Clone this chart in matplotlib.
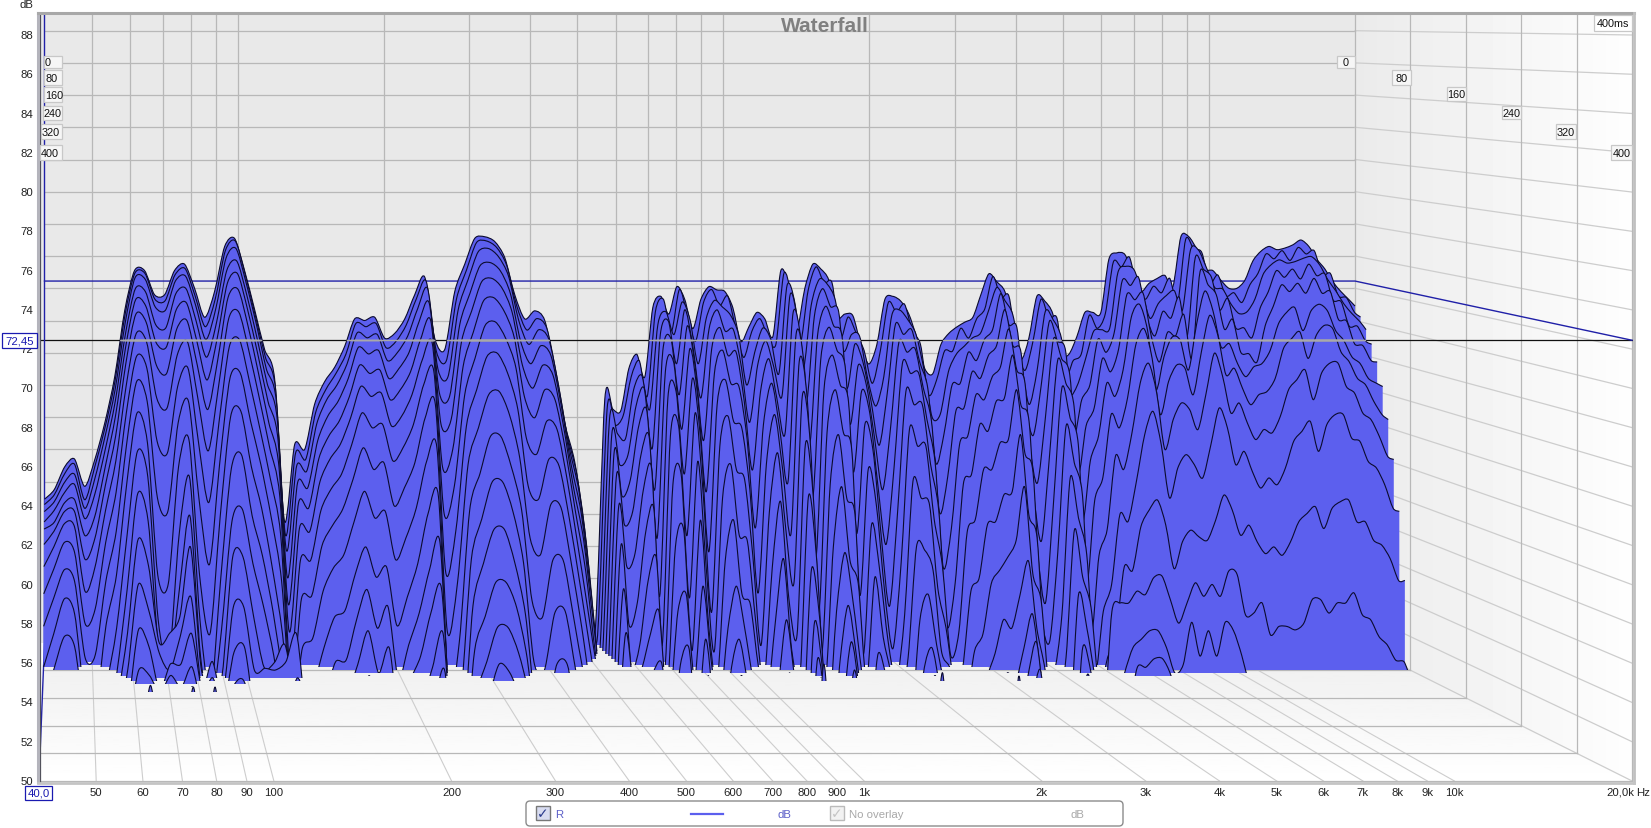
import numpy as np
import matplotlib
matplotlib.use("Agg")
import matplotlib.pyplot as plt
from matplotlib.path import Path
from matplotlib.patches import PathPatch, Polygon, Rectangle, FancyBboxPatch

plt.rcParams['font.family'] = ['Liberation Sans', 'DejaVu Sans']

# frequency points of the slices
freq_lf = [40,41.9,44.0,46.1,48.4,50.7,53.2,55.8,58.5,61.3,64.3,67.4,70.7,74.1,77.7,81.5,85.5,89.6,94.0,98.5,
           103.3,108.3,113.6,119.1,124.9,131,137.4,144.0,151.0,158.4,166.1,174.1,182.6,191.5,200.8,210.5,220.8,231.5,242.7,254.5,
           266.9,279.9,293.5,307.7,322.7,338.4,354.8,372,390.1,409,428.9,449.8,471.6,494.5,518.5,543.7]
freq_hf = [570.1,592.1,615.1,638.8,663.5,689.2,715.9,743.6,772.3,802.2,833.2,865.5,898.9,933.7,969.8,1007.3,1046.3,1086.7,1128.8,1172.4,
           1217.8,1264.9,1313.8,1364.6,1417.4,1472.2,1529.1,1588.2,1649.6,1713.4,1779.7,1848.5,1920,1994.2,2071.3,2151.4,2234.6,2321,2410.8,2504,
           2600.9,2701.5,2805.9,2914.4,3027.1,3144.2,3265.8,3392.1,3523.2,3659.5,3801,3948,4100.7,4259.2,4423.9,4595,4772.7,4957.2,5148.9,5348,
           5554.8,5769.6,5992.7,6224.5,6465.2,6715.2,6974.9,7244.6,7524.7,7815.7,8117.9,8431.8,8757.9,9096.5,9448.3,9813.6,10193,10587,10997,11422,
           11864,12323,12799,13294,13808,14342,14897,15473,16071,16693,17338,18009,18705,19428,20000]

# dB of each time slice, 0 = back, steps of 8 ms
lf_00 = [58.9,59.5,60.9,61.4,59.7,61.3,63.6,66.5,70.6,73.1,73.1,71.6,71.6,73.1,73.5,72.0,70.2,71.8,74.6,75.1,73.1,70.7,68.2,66.4,57.5,62.3,62.0,64.8,66.2,67.1,68.4,70.1,70.0,70.2,68.9,69.2,70.1,71.6,72.7,68.9,68.2,71.8,73.5,75.1,75.2,74.9,73.9,71.6,70.1,70.6,70.0,67.0,63.6,61.2,57.0,50.5]
lf_01 = [58.7,59.3,60.6,61.2,59.0,61.0,63.4,66.3,70.4,73.0,73.0,71.4,71.3,72.9,73.3,71.6,69.7,71.4,74.4,75.0,72.9,70.4,67.8,65.9,56.8,61.9,61.5,64.4,65.8,66.8,68.0,69.9,69.7,69.9,68.4,68.8,69.8,71.4,72.5,68.2,67.6,71.4,73.2,74.9,75.0,74.6,73.5,71.0,69.5,70.2,69.6,66.6,63.1,60.5,56.0,50.3]
lf_02 = [58.4,59.0,60.2,60.7,58.6,60.4,63.0,65.9,70.0,72.8,72.7,71.0,70.8,72.6,72.9,71.1,69.0,70.9,74.0,74.6,72.5,70.0,67.2,65.2,56.0,61.2,60.9,63.8,65.3,66.2,67.5,69.4,69.1,69.3,67.7,68.2,69.2,70.9,72.1,67.2,66.7,70.8,72.7,74.4,74.6,74.1,72.9,70.2,68.7,69.6,69.0,66.0,62.4,59.6,54.8,49.5]
lf_03 = [57.9,58.6,59.7,60.2,58.1,59.6,62.3,65.3,69.4,72.2,72.0,70.0,69.8,71.9,72.2,70.2,68.0,70.1,73.3,73.9,71.8,69.2,66.4,64.2,54.5,60.3,60.0,62.9,64.4,65.3,66.7,68.6,68.2,68.4,66.7,67.3,68.3,70.2,71.3,65.8,65.6,70.0,71.9,73.6,73.8,73.3,71.9,69.0,67.6,68.7,68.1,65.1,61.4,58.4,53.4,49.0]
lf_04 = [57.6,58.0,59.2,59.4,57.2,58.4,61.4,64.5,68.7,71.6,71.2,69.0,68.7,71.0,71.4,69.1,66.7,69.2,72.6,73.2,71.0,68.3,65.4,63.0,53.0,59.2,58.9,61.9,63.3,64.2,65.7,67.6,67.1,67.3,65.5,66.1,67.2,69.2,70.3,64.0,64.3,69.0,70.9,72.7,72.9,72.3,70.8,67.6,66.2,67.6,67.0,64.0,60.2,57.0,51.8,48.0]
lf_05 = [56.8,57.6,58.8,58.8,55.9,57.2,60.4,63.4,67.8,70.8,70.3,67.7,67.2,69.9,70.4,67.7,65.0,68.0,71.8,72.3,70.0,67.2,64.2,61.5,51.5,57.8,57.6,60.6,62.0,62.9,64.5,66.4,65.8,66.0,64.0,64.6,65.9,68.0,69.0,61.5,62.6,67.6,69.7,71.6,71.8,71.0,69.4,65.8,64.5,66.2,65.6,62.6,58.8,55.2,50.0,47.0]
lf_06 = [55.6,56.8,58.2,58.0,54.1,55.6,59.0,62.0,66.5,69.7,69.2,65.8,65.2,68.4,69.2,65.8,62.6,66.4,70.6,71.0,68.6,65.8,62.8,59.8,49.5,56.0,56.0,59.0,60.3,61.2,63.0,64.9,64.0,64.2,62.0,62.8,64.2,66.6,67.4,58.8,60.5,66.0,68.2,70.2,70.4,69.4,67.6,63.4,62.4,64.4,63.9,60.8,57.0,53.0,49.0,46.0]
lf_07 = [54.1,55.6,57.2,56.6,52.3,53.2,57.2,60.2,65.0,68.4,67.7,63.3,62.6,66.6,67.7,63.3,59.6,64.4,69.0,69.4,66.8,64.0,61.0,57.6,48.0,53.8,54.0,57.0,58.2,59.2,61.0,62.9,61.6,62.0,59.4,60.5,62.0,64.7,65.5,55.4,58.0,64.2,66.4,68.4,68.6,67.4,65.2,60.6,59.8,62.2,61.8,58.6,54.8,50.8,47.0,45.0]
lf_08 = [52.3,54.0,55.7,55.0,50.4,50.6,55.0,58.0,63.2,67.0,65.8,60.0,59.2,64.5,65.8,60.0,56.0,62.0,67.2,67.5,64.6,62.0,58.8,55.0,47.0,51.0,51.6,54.4,55.8,56.6,58.6,60.4,58.8,59.2,56.3,57.6,59.4,62.2,63.0,52.0,55.0,62.0,64.2,66.2,66.4,65.0,62.4,57.6,56.6,59.6,59.4,56.0,52.2,48.0,46.0,45.0]
lf_09 = [50.0,52.0,54.1,53.2,48.0,47.5,52.5,55.5,61.0,65.2,63.4,55.5,55.0,62.0,63.6,55.6,52.0,59.0,65.0,65.3,62.0,59.5,56.0,52.0,46.0,48.0,49.0,51.2,53.0,53.4,55.6,57.2,55.4,56.0,52.5,54.2,56.2,59.2,60.2,48.5,51.5,59.4,61.6,63.8,63.8,62.0,59.4,54.0,53.0,56.4,56.4,53.0,49.5,47.0,45.0,44.0]
lf_10 = [48.0,50.0,52.0,51.4,47.0,46.0,49.0,52.5,58.0,63.0,61.5,53.0,50.5,58.0,61.5,53.0,48.5,55.5,62.0,62.8,59.2,56.8,53.5,49.5,46.0,46.0,47.0,48.5,50.5,50.6,53.0,54.8,52.5,53.8,49.5,51.5,53.4,56.0,57.6,47.0,48.5,56.6,59.0,61.2,61.2,59.4,56.4,50.5,50.0,53.4,53.5,50.0,47.0,45.0,44.0,44.0]
lf_11 = [46,48,49.8,49.4,45,45,46.5,50,55.0,60.6,59.0,51.5,50.0,55.0,59.3,51.0,48,52.5,59.0,59.7,56.5,54.0,51.0,47,45,45,46,47,48.5,48.8,50.5,52.5,50.0,51.5,47,49.5,51.0,53.6,55.0,46,46,54,56.5,58.5,58.5,56.5,53.5,48,47.5,50.5,50.5,47,45,44,44,44]
lf_12 = [45,46,47.5,47,44,44,46,48.5,52.5,58.0,56.5,52.0,52.5,53.5,57.6,50.5,49.0,50.0,57.0,57.0,53.5,50.5,50.8,51.8,48,44,46,45,47,47,48,50.0,47.5,49.0,46,47,48.5,50.5,52.5,45,45,51.5,53.5,55.5,55.5,54,51,46,46,48.5,48.2,46,44,44,44,44]
lf_13 = [43,44,45,44.5,43,43,45,47.5,50.5,55.5,54,51.5,50.5,52.5,54.8,49.5,51,49,54.2,54.2,50.5,50.6,50.5,51,52.6,47,44,43,45,45,46,48,46,47,45,46,47,48.5,50.5,44,44,49,51,53,53,51.5,49,45,45,47,46,44,43,43,43,43]
lf_14 = [43,43,43,43,43,43,44,46.5,48.5,53,52,49.5,51,51,52.8,49.5,50.2,48.5,51.7,52,48,47.5,48,48,50.2,48,43,43,43,43,44,46,44,45.5,44,44,45,47,48.5,43,43,47,49,51,50.5,49,47,44,43,45,44,43,43,43,43,43]
lf_15 = [43,43,43,43,43,43,43,45,47.5,50.8,50.5,49.5,50.5,49.8,51,48.6,49.5,48,50,50,46,45,45,45,47.5,46,43,43,43,43,43,44.5,43,44,43,43,43,45,46.5,43,43,45,47,49,48.5,47,45,43,43,44,43,43]
lf_16 = [43,43,43,43,43,43,43,44,46,49.2,49,48.5,49.5,48.2,50,47.5,48.5,46.5,48.5,48,45,44,44,44,46,45,43]
lf_17 = [43,43,43,43,43,43,43,43,44.5,47.5,48,47.5,47.5,47,48.5,46,47,45,47,46,43]
lf_18 = [43,43,43,43,43,43,43,43,43,45.5,50.4,46,46,45.5,50.3,45,50.3,44,45,44,43]

hf_00 = [65.1,64.5,64.4,67.0,67.9,66.5,70.8,71.5,70.4,72.1,71.3,69.5,71.3,72.1,71.9,71.8,70.8,68.7,69.6,70.5,70.1,69.0,73.1,72.1,69.5,72.0,73.5,73.2,72.5,70.2,70.4,70.3,68.5,67.3,68.5,71.3,71.5,71.2,70.4,68.9,67.0,66.7,68.5,69.2,69.6,69.9,70.2,71.6,72.9,72.4,71.8,69.8,67.6,68.9,71.5,71.2,70.4,67.9,67.9,69.0,70.5,70.5,70.5,73.8,74.2,74.1,72.9,71.8,72.3,72.6,72.8,72.1,75.2,75.2,74.4,73.2,73.1,72.5,72.0,72.0,72.5,73.7,74.3,74.6,74.4,74.5,74.7,75.0,74.6,73.8,73.2,72.4,71.8,71.3,70.9]
hf_01 = [64.6,63.6,64.2,66.6,67.6,65.4,70.6,71.4,69.4,72.0,70.4,68.8,71.2,72.0,71.0,71.6,69.6,67.8,69.4,70.2,69.1,68.6,73.0,71.5,68.6,71.9,73.4,72.4,72.4,69.0,70.3,69.3,68.2,66.2,68.2,71.2,70.6,71.1,69.4,68.6,65.5,66.4,68.2,68.2,69.6,69.0,70.2,70.8,72.8,71.5,71.6,68.4,67.0,68.8,71.4,70.2,70.2,66.6,67.6,68.0,70.4,69.6,70.5,73.7,73.4,74.0,72.0,71.4,72.2,71.8,72.7,71.2,75.1,74.5,74.3,72.4,72.9,71.6,71.8,71.2,72.3,73.0,74.2,73.9,74.4,73.8,74.6,74.2,74.4,72.9,73.0,71.6,71.5,70.6,70.3]
hf_02 = [64.0,63.2,62.9,65.9,66.8,64.7,69.9,70.7,69.3,71.3,70.2,67.5,70.3,71.4,71.0,70.5,69.3,66.2,68.2,69.7,69.0,66.9,72.3,71.2,67.2,71.1,72.7,72.4,71.4,68.3,69.3,69.2,66.6,64.9,66.7,70.5,70.8,70.2,69.3,67.1,64.2,64.4,67.0,68.1,68.6,69.1,69.4,70.8,72.2,71.4,70.5,67.7,65.0,67.1,70.7,70.2,69.1,65.7,66.2,67.8,69.5,69.6,69.7,73.1,73.5,73.3,71.9,70.3,71.2,71.7,72.0,70.8,74.5,74.5,73.4,72.2,72.1,71.2,70.6,70.7,71.5,73.0,73.6,73.9,73.7,73.8,74.0,74.1,73.6,72.7,72.0,71.2,70.6,70.1,69.6]
hf_03 = [63.2,61.4,62.0,65.0,66.1,62.4,69.4,70.2,67.6,70.9,68.7,65.5,69.7,70.9,69.6,69.7,67.4,64.0,67.5,69.0,67.4,65.6,71.8,70.0,65.2,70.5,72.2,71.1,70.8,66.1,68.8,67.7,65.3,62.6,65.8,70.0,69.4,69.7,67.7,66.1,61.5,63.3,66.3,66.4,68.3,67.8,69.1,69.7,71.9,70.0,69.8,65.2,63.2,66.3,70.2,69.0,68.4,63.3,65.4,66.3,69.1,68.3,69.5,72.7,72.4,72.9,70.5,69.3,70.8,70.4,71.7,69.3,74.1,73.4,72.9,70.9,71.6,69.8,69.8,69.2,71.0,72.0,73.3,72.9,73.4,72.8,73.7,73.0,73.1,71.5,71.4,69.9,69.9,69.0,68.8]
hf_04 = [62.2,59.6,60.6,63.8,64.9,60.0,68.5,69.2,65.8,70.0,67.4,63.0,68.6,69.9,68.2,68.4,65.4,61.2,66.0,68.0,65.6,63.4,70.8,69.0,62.7,69.4,71.2,70.0,69.4,64.0,67.6,66.4,63.2,60.0,63.9,69.0,68.4,68.6,66.2,64.2,58.6,60.8,64.8,65.0,67.2,66.8,68.2,68.8,71.0,68.8,68.4,63.0,60.4,64.4,69.2,68.0,67.0,61.0,63.9,65.0,68.0,67.2,68.6,71.9,71.6,72.0,69.4,67.8,69.6,69.4,70.7,68.0,73.3,72.5,71.9,69.8,70.4,68.4,68.3,67.8,70.0,71.2,72.5,72.1,72.6,72.0,72.9,72.0,72.1,70.4,70.3,68.9,68.8,67.9,67.8]
hf_05 = [60.9,58.0,58.8,62.2,63.4,57.2,67.3,67.9,63.8,68.7,65.6,60.0,67.2,68.6,66.6,66.4,63.2,57.8,64.1,66.6,63.8,60.6,69.6,67.6,59.6,68.0,70.0,68.6,67.6,61.2,66.1,64.8,60.4,56.8,61.6,67.8,67.2,67.2,64.4,61.8,55.4,57.8,62.9,63.4,65.9,65.6,67.0,67.6,69.9,67.4,66.6,60.2,57.0,62.2,68.0,66.6,65.2,58.2,61.9,63.4,66.6,65.8,67.4,70.6,71.4,69.8,66.2,68.2,69.4,69.2,67.4,70.2,72.2,71,68.8,69,67.8,67,67.6,67.8,68.6,70.2,70.9,71.2,69.8,71,71.4,71,69.8,69.2,68.2,67.8,66.9,66.6,66.4]
hf_06 = [59.2,55.6,56.4,60.2,61.6,53.8,65.8,66.2,61.2,67.0,63.2,56.5,65.4,66.9,64.4,64.0,60.2,54.0,61.8,64.8,61.4,57.6,68.0,65.6,56.0,66.2,68.4,66.6,65.6,57.6,64.2,62.6,57.4,53.2,59.0,66.2,65.4,65.4,61.8,59.0,52.0,54.6,60.6,61.2,64.2,63.8,65.6,65.8,68.4,65.4,64.4,56.8,53.4,59.6,66.4,64.6,63.0,54.6,59.6,61.0,64.8,64.0,65.8,69,70,68.2,64.8,66.8,67.8,67.6,66,68.6,70.8,69.6,67.2,67.6,66.4,65.4,66,66.2,67,68.8,69.4,69.8,68.2,69.6,70.2,70,68.6,68,67,66.6,65.6,64.8,64.5]
hf_07 = [57.0,52.2,53.6,57.8,59.2,51.0,63.6,64.2,57.6,65.0,60.0,53.0,63.0,64.8,61.6,61.0,56.4,51.0,59.0,62.6,58.0,54.8,66.0,63.0,53.0,63.8,66.4,63.8,62.8,54.0,61.6,59.4,54.2,50.8,56.0,64.0,63.0,63.0,58.6,55.8,50.4,51.8,57.8,58.6,61.6,61.6,63.2,63.4,66.4,62.6,61.4,53.0,51.2,56.6,64.2,62.0,60.0,51.6,56.4,58.0,62.4,61.6,63.8,66.8,68,66.2,62.8,64.6,65.6,65.2,64,66.2,68.6,67.2,65,65.6,64.4,63.4,64,63.8,64.8,66.4,67,67.6,65.8,67.4,68,68,66.6,66.2,65,64.6,63.6,62.4,62.2]
hf_08 = [54.5,49.8,51.2,55.0,56.4,49.6,60.8,61.4,54.0,62.2,56.0,50.8,60.0,62.0,57.8,57.4,52.6,49.0,55.8,59.8,54.0,51.8,63.2,59.8,50.8,60.8,63.8,60.0,59.0,50.6,58.4,55.6,51.4,49.0,53.0,61.0,60.0,59.6,54.6,52.2,49.0,49.8,54.4,55.2,58.4,58.6,60.2,60.4,63.8,59.0,57.6,50.0,49.4,53.0,61.2,58.8,56.6,49.6,53.2,54.8,59.0,58.6,61.0,63.8,65.2,63.2,60,61.8,62.6,62,61.2,63.2,65.4,64.2,62,62.8,61.6,60.6,61.2,60.8,61.8,63.4,64,64.6,62.8,64.4,65,65,63.6,63.4,62.2,61.8,60.8,59.4,59.2]
hf_09 = [52.0,48.8,50.0,52.0,53.4,48.6,57.2,58.2,51.0,58.8,52.5,49.0,56.4,58.8,54.4,53.8,50.0,48.0,52.6,56.5,51.0,49.6,60.2,56.4,49.0,57.2,60.8,56.4,55.0,49.2,55.4,51.8,49.6,48.0,50.6,57.2,57.0,55.8,51.0,50.0,48,48,51.0,52.0,55.0,55.8,56.6,57.6,60.8,55.6,54.0,48.6,48,50.6,58.2,55.4,53.6,48.8,50.6,52.0,56.0,55.8,58.4,59.4,60.0,58.5,55.9,57.5,58.2,57.8,57.6,58.8,60.3,59.4,57.9,58.5,57.5,56.8,57.2,56.7,57.5,58.7,59.2,59.6,58.3,59.5,59.9,60.0,58.7,58.7,57.6,57.3,56.5,55.2,55.2]
hf_10 = [49.5,48,48,49.8,50.5,48,53.5,54.5,49.5,55.0,50.5,48,52.5,55.0,52.5,49.5,48,47,49,53.0,49.5,47,56.0,53.0,47,53.5,57.0,54.0,50.0,47,51.0,49.5,47,46,47,53.0,54.5,51.5,49,47,46,46,47,49.5,51.0,53.0,52.5,54.5,56.5,52.5,50,46,46,47,54.5,52.5,49.5,47,53.5,54,54,54.7,54.5,55.5,55.6,54.2,52.8,54,55.2,54.4,55.1,54.4,55.9,55.7,53.3,53.4,54,52.1,52.6,52.6,52.4,52.8,54.2,54.2,53.4,54,54,54.6,53.3,53,52,51.5,50.6,50.5,49.5]
hf_11 = [47,46,46,47,48,46,50.5,51.5,47,52,48,45,50,52,49.5,47,45,45,46,50,47,45,53,50,45,50.5,54,51,47,45,48,47,45,44,45,50,51.5,49,46,45,44,44,45,47,48.5,50,49.5,51.5,53.5,50,47,45,44,45,51.5,50,47,45,48,50,51.5,52,52.5,52.5,51.5,50,50.5,53,51,52.5,51,53,52.5,51,49,47]
hf_12 = [45,44,44,45,46,44,48,49,45,50,46,44,48,50,47,45,44,44,44,48,45,44,51,48,44,48,52,49,45,44,46,45,44,43,44,48,50,47,44,43,43,43,44,45,46.5,48.5,47.5,50,52,48,45,44,43,44,50,48,45,44,46,48,50.5,50.5,51,51,50,48,46]
hf_13 = [43,43,43,43,44,43,46,47,44,48,44,43,46,48,45,44,43,43,43,46,44,43,50,46,43,46.5,50.5,47,44,43,45,43,43,43,43,47,48,45,43,43,43,43,43,44,45,47,46,48.5,50.5,46,44,43]
hf_14 = [43,43,43,43,43,43,44.5,45,43,46.5,43,43,45,46.5,44,43,43,43,43,45,43,43,51,44.5,43,45,49.5,45,43,43,43.5,43,43,43,43,45,50.5,44,43,43,43,43,43,43,43.5,50.3,44.5,43]

slices = [(lf_00, hf_00), (lf_01, hf_01), (lf_02, hf_02), (lf_03, hf_03), (lf_04, hf_04),
          (lf_05, hf_05), (lf_06, hf_06), (lf_07, hf_07), (lf_08, hf_08), (lf_09, hf_09),
          (lf_10, hf_10), (lf_11, hf_11), (lf_12, hf_12), (lf_13, hf_13), (lf_14, hf_14),
          (lf_15, []), (lf_16, []), (lf_17, []), (lf_18, [])]
slice_step = 0.02

db_ticks = list(range(50, 90, 2))
freq_ticks = [50, 60, 70, 80, 90, 100, 200, 300, 400, 500, 600, 700, 800, 900, 1000, 2000, 3000, 4000, 5000, 6000, 7000, 8000, 9000, 10000]
freq_labels = ['50', '60', '70', '80', '90', '100', '200', '300', '400', '500', '600', '700', '800', '900', '1k', '2k', '3k', '4k', '5k', '6k', '7k', '8k', '9k', '10k']
ms_ticks = [0, 80, 160, 240, 320, 400]
level = 72.45

BLUE = '#5c5fee'


def project(f, db, t):
    # pixel position on the box, t = 0 back wall, t = 1 front
    f = np.asarray(f, dtype=float)
    db = np.asarray(db, dtype=float)
    u = np.log(f / 40.0) / np.log(500.0)
    xl = 44.5 - 5.5 * t
    xr = 1355 + 277 * t
    yb = 31.7 + (88 - db) * 16.1
    yf = 36 + (88 - db) * 19.63
    return xl + u * (xr - xl), yb * (1 - t) + yf * t


def smooth_path(x, y):
    verts = [(x[0], y[0])]
    codes = [Path.MOVETO]
    c = 0.14
    n = len(x)
    for i in range(n - 1):
        a, b = max(i - 1, 0), min(i + 2, n - 1)
        verts.append((x[i] + (x[i + 1] - x[a]) * c, y[i] + (y[i + 1] - y[a]) * c))
        verts.append((x[i + 1] - (x[b] - x[i]) * c, y[i + 1] - (y[b] - y[i]) * c))
        verts.append((x[i + 1], y[i + 1]))
        codes += [Path.CURVE4] * 3
    return verts, codes


fig = plt.figure(figsize=(16.51, 8.29), dpi=100)
ax = fig.add_axes([0, 0, 1, 1])
ax.set_xlim(0, 1651)
ax.set_ylim(829, 0)
ax.axis('off')

# walls
back_top = 15
floor_back = project(40, 50, 0)[1]
ax.add_patch(Rectangle((39, back_top), 1316, floor_back - back_top, fc='#e9e9e9', ec='none', zorder=1))
right_wall = Polygon([(1355, back_top), (1632, back_top), (1632, 782), (1355, floor_back)], fc='none', ec='none')
ax.add_patch(right_wall)
im = ax.imshow(np.linspace(0.92, 0.995, 64).reshape(1, -1), cmap='gray', vmin=0, vmax=1, extent=(1355, 1632, 782, back_top), aspect='auto', zorder=1)
im.set_clip_path(right_wall)
floor = Polygon([(44.5, floor_back), (1355, floor_back), (1632, 782), (39, 782)], fc='none', ec='none')
ax.add_patch(floor)
im = ax.imshow(np.linspace(0.93, 1.0, 64).reshape(-1, 1), cmap='gray', vmin=0, vmax=1, extent=(39, 1632, 782, floor_back), aspect='auto', zorder=1)
im.set_clip_path(floor)
ax.set_xlim(0, 1651)
ax.set_ylim(829, 0)

# grid on back wall, right wall and floor
grid_back = '#b8b8b8'
grid_side = '#cdcdcd'
for db in db_ticks:
    x0, y0 = project(40, db, 0)
    x1, y1 = project(20000, db, 0)
    ax.plot([x0, x1], [y0, y1], color=grid_back, lw=0.9, zorder=2)
    x2, y2 = project(20000, db, 1)
    ax.plot([x1, x2], [y1, y2], color=grid_side, lw=0.9, zorder=2)
for f in freq_ticks:
    x0, y0 = project(f, 50, 0)
    x1, y1 = project(f, 50, 1)
    ax.plot([x0, x0], [back_top, y0], color=grid_back, lw=0.9, zorder=2)
    ax.plot([x0, x1], [y0, y1], color=grid_side, lw=0.8, zorder=2)
for ms in ms_ticks:
    t = ms / 400
    x0, y0 = project(20000, 50, t)
    x1, y1 = project(40, 50, t)
    ax.plot([x0, x0], [back_top, y0], color=grid_back, lw=0.9, zorder=2)
    ax.plot([x1, x0], [y0, y0], color=grid_back, lw=0.9, zorder=2)

# level lines behind the waterfall
x0, y0 = project(40, level, 1)
x1, y1 = project(20000, level, 1)
ax.plot([x0, x1], [y0, y1], color='#111111', lw=0.9, zorder=3)
xb, yb = project([40, 40, 40], [89.0, 50, 50], np.array([0, 0, 1]))
ax.plot(xb, yb, color='#2020a8', lw=1.0, zorder=3)
xc, yc = project([40, 20000], [level, level], 0)
xd, yd = project(20000, level, 1)
ax.plot([xc[0], xc[1], xd], [yc[0], yc[1], yd], color='#2020a8', lw=1.0, zorder=3)

# waterfall, back to front
zo = 4
for k, (lf, hf) in enumerate(slices):
    t = k * slice_step
    db = np.array(list(lf) + list(hf))
    f = np.array(list(freq_lf[:len(lf)]) + list(freq_hf[:len(hf)]))
    x, y = project(f, db, t)
    floor_y = float(project(40, 50, t)[1])
    verts, codes = smooth_path(x, y)
    clip = Rectangle((0, 0), 1651, floor_y, transform=ax.transData)
    fill_path = Path(verts + [(x[-1], floor_y + 2), (x[0], floor_y + 2), (x[0], y[0]), (x[0], y[0])],
                     codes + [Path.LINETO, Path.LINETO, Path.LINETO, Path.CLOSEPOLY])
    body = PathPatch(fill_path, fc=BLUE, ec='none', zorder=zo)
    ax.add_patch(body)
    body.set_clip_path(clip)
    edge = PathPatch(Path(verts, codes), fc='none', ec='#0b0b2e', lw=0.8, zorder=zo + 0.5)
    ax.add_patch(edge)
    edge.set_clip_path(clip)
    grey, = ax.plot([x0, x1], [y0, y1], color='#a9a9a9', lw=1.0, zorder=60)
    grey.set_clip_path(PathPatch(fill_path, transform=ax.transData))
    zo += 1

# frame
ax.plot([39.5, 39.5], [14, 783], color='#50505a', lw=0.9, zorder=70)
ax.plot([37.5, 37.5], [14, 783], color='#b4b4bc', lw=2.2, zorder=70)
ax.plot([38, 1634], [14, 14], color='#a8a8a8', lw=2.2, zorder=70)
ax.plot([1633.5, 1633.5], [14, 784], color='#c0c0c0', lw=2.0, zorder=70)
ax.plot([38, 1634], [783.5, 783.5], color='#c4c4c4', lw=2.0, zorder=70)

# axis text
for db in range(50, 90, 2):
    y = 36 + (88 - db) * 19.63
    ax.text(33, y, str(db), ha='right', va='center', fontsize=8.2, color='#222222', zorder=80)
ax.text(33, 5, 'dB', ha='right', va='center', fontsize=8.2, color='#222222')
for f, lab in zip(freq_ticks, freq_labels):
    x, _ = project(f, 50, 1)
    ax.text(x, 793, lab, ha='center', va='center', fontsize=8.2, color='#222222')
ax.text(1620, 793, '20,0k', ha='center', va='center', fontsize=8.2, color='#222222')
ax.text(1650, 793, 'Hz', ha='right', va='center', fontsize=8.2, color='#222222')
ax.text(825, 26, 'Waterfall', ha='center', va='center', fontsize=15, fontweight='bold', color='#808080', zorder=80)


def tag(x0, x1, y0, y1, s, ec='#c8c8c8', fc='#f6f6f6', color='#111111', size=7.8, ha='center'):
    ax.add_patch(Rectangle((x0, y0), x1 - x0, y1 - y0, fc=fc, ec=ec, lw=0.9, zorder=90))
    ax.text((x0 + x1) / 2 if ha == 'center' else x0 + 1, (y0 + y1) / 2, s, ha=ha, va='center', fontsize=size, color=color, zorder=91)


left_boxes = [(44, 62, 57, 69), (44, 62, 71, 86), (44, 62, 88, 103), (43, 62, 107, 121), (41, 62, 125, 140), (40, 62, 146, 161)]
right_boxes = [(1337, 1355, 57, 69), (1392, 1411, 71, 86), (1447, 1466, 88, 102), (1502, 1521, 107, 120), (1556, 1576, 125, 140), (1611, 1632, 146, 161)]
for ms, a, b in zip(ms_ticks, left_boxes, right_boxes):
    tag(*a, str(ms), ha='left')
    tag(*b, str(ms))
tag(1594, 1632, 16, 32, '400ms', fc='white')
tag(25, 52, 787, 801, '40,0', ec='#1a1ab0', fc='white', color='#1a1ab0', size=8.2)
tag(2, 37, 334, 349, '72,45', ec='#1a1ab0', fc='white', color='#1a1ab0', size=8.2)

# legend strip
ax.add_patch(FancyBboxPatch((526, 802), 597, 25, boxstyle='round,pad=0,rounding_size=4', fc='white', ec='#8c8c8c', lw=1.0, zorder=80))
ax.add_patch(Rectangle((536, 807), 14, 14, fc='#d8dcf0', ec='#777777', lw=1.0, zorder=81))
ax.text(543, 814, '\u2713', ha='center', va='center', fontsize=10, fontweight='bold', color='#2a3a8c', family=['DejaVu Sans'], zorder=82)
ax.text(555, 815, 'R', ha='left', va='center', fontsize=8.2, color='#5c5fc8', zorder=82)
ax.plot([691, 723], [815, 815], color=BLUE, lw=1.6, zorder=82)
ax.text(784, 815, 'dB', ha='center', va='center', fontsize=8.2, color='#5c5fc8', zorder=82)
ax.add_patch(Rectangle((830, 807), 14, 14, fc='#f2f2f2', ec='#bbbbbb', lw=1.0, zorder=81))
ax.text(837, 814, '\u2713', ha='center', va='center', fontsize=10, fontweight='bold', color='#c4c4c4', family=['DejaVu Sans'], zorder=82)
ax.text(849, 815, 'No overlay', ha='left', va='center', fontsize=8.2, color='#a8a8a8', zorder=82)
ax.text(1077, 815, 'dB', ha='center', va='center', fontsize=8.2, color='#a8a8a8', zorder=82)

fig.savefig('out.png', dpi=100)
